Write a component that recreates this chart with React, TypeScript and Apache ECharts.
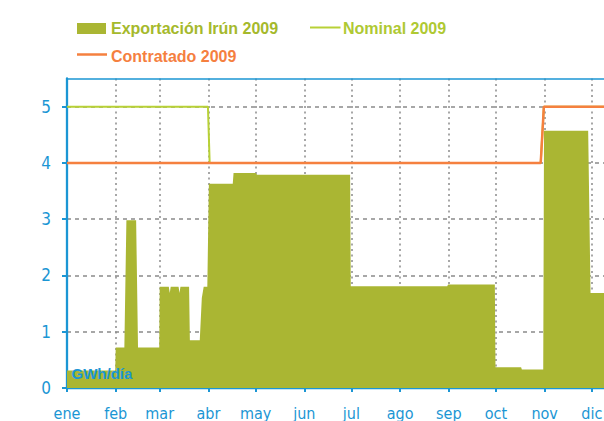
import React, { useEffect, useRef } from "react";
import * as echarts from "echarts";

const monthLabels = ["ene", "feb", "mar", "abr", "may", "jun", "jul", "ago", "sep", "oct", "nov", "dic"];
const monthStartDays = [0, 31, 59, 90, 120, 151, 181, 212, 243, 273, 304, 334];
const yTickValues = [0, 1, 2, 3, 4, 5];

// [day of year, GWh/día]
const exportacionIrun2009: [number, number][] = [
  [0, 0.31], [30.7, 0.31], [31, 0.72], [36.5, 0.72], [37.8, 2.98], [44, 2.98], [45.2, 0.72],
  [58.7, 0.72], [59, 1.8], [64.8, 1.8], [65.4, 1.69], [66, 1.8], [71, 1.8], [71.6, 1.69],
  [72.2, 1.8], [77.7, 1.8], [78.2, 0.85], [84.5, 0.85], [85.8, 1.6], [87, 1.8], [89.3, 1.8],
  [90.3, 3.63], [105.5, 3.63], [106, 3.82], [120, 3.82], [121, 3.79], [180.2, 3.79],
  [180.6, 1.81], [242, 1.81], [242.5, 1.84], [272.3, 1.84], [272.7, 0.37], [289, 0.37],
  [289.5, 0.33], [303.1, 0.33], [303.6, 4.57], [331.7, 4.57], [333.2, 1.69], [365, 1.69],
];
const nominal2009: [number, number][] = [
  [0, 5], [89.7, 5], [90.8, 4], [301.5, 4], [303.5, 5], [365, 5],
];
const contratado2009: [number, number][] = [
  [0, 4], [301.5, 4], [303.5, 5], [365, 5],
];

const BLUE = "#1b96d4";
const AREA_GREEN = "#aab633";
const NOMINAL_GREEN = "#b8d136";
const ORANGE = "#f5803f";
const GRID_GRAY = "#8a8a8a";
const FONT_LEG = '"Liberation Sans", Arial, sans-serif';
const FONT_AX = '"DejaVu Sans Condensed", "DejaVu Sans", Verdana, sans-serif';

export default function App() {
  const ref = useRef<HTMLDivElement>(null);
  useEffect(() => {
    if (!ref.current) return;
    const chart = echarts.init(ref.current, undefined, { renderer: "svg" });
    chart.setOption({
      animation: false,
      grid: { left: 67, right: 39.5, top: 78.5, bottom: 33, containLabel: false },
      xAxis: [
        {
          type: "value",
          min: 0,
          max: 365,
          axisLine: { show: true, lineStyle: { color: BLUE, width: 2.3 } },
          axisTick: { show: true, customValues: monthStartDays, length: 4, lineStyle: { color: BLUE, width: 2 } },
          axisLabel: {
            customValues: monthStartDays,
            formatter: (v: number) => monthLabels[monthStartDays.indexOf(Math.round(v))] ?? "",
            color: BLUE,
            fontFamily: FONT_AX,
            fontSize: 16,
            margin: 17,
          },
          splitLine: { show: true, lineStyle: { color: GRID_GRAY, width: 1.5, type: [2, 3.5] } },
        },
        {
          type: "value",
          position: "top",
          min: 0,
          max: 365,
          axisLine: { show: true, onZero: false, lineStyle: { color: BLUE, width: 1.5 } },
          axisTick: { show: false },
          axisLabel: { show: false },
          splitLine: { show: false },
        },
      ],
      yAxis: {
        type: "value",
        min: 0,
        max: 5.5,
        interval: 1,
        axisLine: { show: true, lineStyle: { color: BLUE, width: 2.3 } },
        axisTick: { show: true, customValues: yTickValues, length: 5, lineStyle: { color: BLUE, width: 2 } },
        axisLabel: {
          customValues: yTickValues,
          color: BLUE,
          fontFamily: FONT_AX,
          fontSize: 17,
          margin: 16,
        },
        splitLine: { show: true, lineStyle: { color: GRID_GRAY, width: 1.5, type: [4, 4] } },
      },
      graphic: [
        { type: "rect", shape: { x: 77, y: 23, width: 29, height: 11 }, style: { fill: AREA_GREEN } },
        {
          type: "text", x: 111, y: 28,
          style: { text: "Exportación Irún 2009", fill: "#a5b92c", font: `bold 16px ${FONT_LEG}`, verticalAlign: "middle" },
        },
        { type: "line", shape: { x1: 310, y1: 27.5, x2: 340.5, y2: 27.5 }, style: { stroke: NOMINAL_GREEN, lineWidth: 2 } },
        {
          type: "text", x: 343, y: 28,
          style: { text: "Nominal 2009", fill: "#afc933", font: `bold 16px ${FONT_LEG}`, verticalAlign: "middle" },
        },
        { type: "line", shape: { x1: 77, y1: 54.5, x2: 107, y2: 54.5 }, style: { stroke: ORANGE, lineWidth: 2.5 } },
        {
          type: "text", x: 111, y: 56,
          style: { text: "Contratado 2009", fill: ORANGE, font: `bold 16px ${FONT_LEG}`, verticalAlign: "middle" },
        },
        {
          type: "text", x: 71.5, y: 373, z: 100,
          style: { text: "GWh/día", fill: BLUE, font: `bold 15px ${FONT_LEG}`, verticalAlign: "middle" },
        },
      ],
      series: [
        {
          name: "Exportación Irún 2009",
          type: "line",
          data: exportacionIrun2009,
          showSymbol: false,
          lineStyle: { width: 0 },
          areaStyle: { color: AREA_GREEN, opacity: 1 },
          z: 2,
        },
        {
          name: "Nominal 2009",
          type: "line",
          data: nominal2009,
          showSymbol: false,
          lineStyle: { color: NOMINAL_GREEN, width: 2 },
          z: 3,
        },
        {
          name: "Contratado 2009",
          type: "line",
          data: contratado2009,
          showSymbol: false,
          lineStyle: { color: ORANGE, width: 2.5 },
          z: 4,
        },
      ],
    });
    return () => chart.dispose();
  }, []);
  return (
    <div style={{ position: "fixed", left: 0, top: 0, width: 604, height: 421, overflow: "hidden", background: "#fff" }}>
      <div ref={ref} style={{ width: 680, height: 421 }} />
    </div>
  );
}
